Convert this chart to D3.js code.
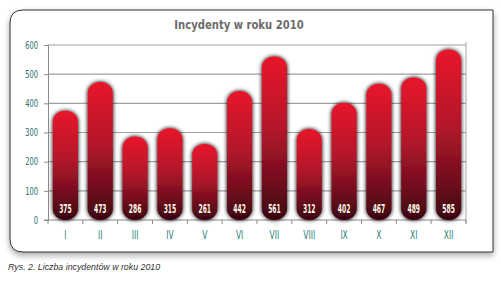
<!DOCTYPE html>
<html>
<head>
<meta charset="utf-8">
<script src="https://cdn.jsdelivr.net/npm/d3@7"></script>
<style>
  body { margin: 0; background: #fff; }
  svg { display: block; }
</style>
</head>
<body>
<div id="chart"></div>
<script>
// data
var months = ["I", "II", "III", "IV", "V", "VI", "VII", "VIII", "IX", "X", "XI", "XII"];
var incidents = [375, 473, 286, 315, 261, 442, 561, 312, 402, 467, 489, 585];
var yTicks = [0, 100, 200, 300, 400, 500, 600];
var title = "Incydenty w roku 2010";
var caption = "Rys. 2. Liczba incydentów w roku 2010";

var W = 501, H = 281;
var margin = {top: 45, right: 35, bottom: 61, left: 48},
    width = W - margin.left - margin.right,
    height = H - margin.top - margin.bottom;
var narrow = "'DejaVu Sans Condensed', 'Liberation Sans Narrow', 'Roboto Condensed', sans-serif";

var svg = d3.select("#chart").append("svg")
    .attr("width", W)
    .attr("height", H);

var defs = svg.append("defs");

// frame shadow
var fs = defs.append("filter").attr("id", "frameShadow")
    .attr("x", "-10%").attr("y", "-10%").attr("width", "120%").attr("height", "130%");
fs.append("feGaussianBlur").attr("in", "SourceAlpha").attr("stdDeviation", 3).attr("result", "b");
fs.append("feOffset").attr("in", "b").attr("dx", 0).attr("dy", 3).attr("result", "o");
fs.append("feComponentTransfer").attr("in", "o").attr("result", "s")
  .append("feFuncA").attr("type", "linear").attr("slope", 0.35);
var fm = fs.append("feMerge");
fm.append("feMergeNode").attr("in", "s");
fm.append("feMergeNode").attr("in", "SourceGraphic");

// bar shadow
var bs = defs.append("filter").attr("id", "barShadow")
    .attr("x", "-40%").attr("y", "-20%").attr("width", "180%").attr("height", "140%");
bs.append("feGaussianBlur").attr("in", "SourceAlpha").attr("stdDeviation", 2).attr("result", "b");
bs.append("feComponentTransfer").attr("in", "b").attr("result", "s")
  .append("feFuncA").attr("type", "linear").attr("slope", 1.1);
var bm = bs.append("feMerge");
bm.append("feMergeNode").attr("in", "s");
bm.append("feMergeNode").attr("in", "SourceGraphic");

// bar gradient
var grad = defs.append("linearGradient").attr("id", "barGrad")
    .attr("x1", 0).attr("y1", 0).attr("x2", 0).attr("y2", 1);
grad.append("stop").attr("offset", "0%").attr("stop-color", "#e8192b");
grad.append("stop").attr("offset", "45%").attr("stop-color", "#b3172b");
grad.append("stop").attr("offset", "80%").attr("stop-color", "#6a0c1c");
grad.append("stop").attr("offset", "100%").attr("stop-color", "#3a0510");

// frame: rounded on the left, square on the right
var fx0 = 10, fy0 = 10, fx1 = 493, fy1 = 252, r = 13;
svg.append("path")
    .attr("d", "M" + (fx0 + r) + "," + fy0 + " L" + fx1 + "," + fy0 + " L" + fx1 + "," + fy1 +
      " L" + (fx0 + r) + "," + fy1 + " Q" + fx0 + "," + fy1 + " " + fx0 + "," + (fy1 - r) +
      " L" + fx0 + "," + (fy0 + r) + " Q" + fx0 + "," + fy0 + " " + (fx0 + r) + "," + fy0 + " Z")
    .attr("fill", "#fff")
    .attr("stroke", "#333")
    .attr("stroke-width", 1)
    .attr("filter", "url(#frameShadow)");

svg.append("text")
    .attr("transform", "translate(239,29) scale(0.86,1)")
    .attr("text-anchor", "middle")
    .style("font-family", narrow)
    .style("font-weight", "bold")
    .style("font-size", "13px")
    .style("fill", "#6b6b6b")
    .text(title);

var g = svg.append("g")
    .attr("transform", "translate(" + margin.left + "," + margin.top + ")");

var x = d3.scaleBand()
    .domain(months)
    .range([0, width])
    .paddingInner(0.28)
    .paddingOuter(0.14);

var y = d3.scaleLinear()
    .domain([0, 600])
    .range([height, 0]);

// grid lines
g.selectAll(".grid")
  .data(yTicks.slice(1))
  .enter().append("line")
    .attr("x1", 0).attr("x2", width)
    .attr("y1", function(d){ return y(d); })
    .attr("y2", function(d){ return y(d); })
    .attr("stroke", "#a0a0a0")
    .attr("stroke-width", 1.2);

// right edge line
g.append("line")
    .attr("x1", width).attr("x2", width)
    .attr("y1", y(600) - 3).attr("y2", height + 3)
    .attr("stroke", "#a8a8a8");

// y axis
var yAxis = g.append("g")
    .call(d3.axisLeft(y).tickValues(yTicks).tickSize(4).tickPadding(6));
yAxis.select(".domain").attr("stroke", "#8a8a8a");
yAxis.selectAll(".tick line").attr("stroke", "#8a8a8a");
yAxis.selectAll("text")
    .attr("transform", "scale(0.75,1)")
    .attr("x", -10 / 0.75)
    .style("font-family", narrow)
    .style("font-size", "10px")
    .style("fill", "#2c6f6c");

// x axis with ticks on band edges
var edges = months.map(function(m){ return x(m) - x.step() * x.paddingInner() / 2; });
edges.push(width);
g.selectAll(".xtick")
  .data(edges)
  .enter().append("line")
    .attr("x1", function(d){ return d; }).attr("x2", function(d){ return d; })
    .attr("y1", height).attr("y2", height + 4)
    .attr("stroke", "#8a8a8a");
g.append("line")
    .attr("x1", -4).attr("x2", width)
    .attr("y1", height).attr("y2", height)
    .attr("stroke", "#8a8a8a");

g.selectAll(".xlab")
  .data(months)
  .enter().append("text")
    .attr("transform", function(d){
      return "translate(" + (x(d) + x.bandwidth() / 2) + "," + (height + 19) + ") scale(0.7,1)";
    })
    .attr("text-anchor", "middle")
    .style("font-family", narrow)
    .style("font-size", "12px")
    .style("fill", "#2c7f7c")
    .text(function(d){ return d; });

// bars
var bw = x.bandwidth(), rr = bw / 2;
g.selectAll(".bar")
  .data(incidents)
  .enter().append("rect")
    .attr("x", function(d, i){ return x(months[i]); })
    .attr("y", function(d){ return y(d); })
    .attr("width", bw)
    .attr("height", function(d){ return height - y(d); })
    .attr("rx", rr).attr("ry", 11)
    .attr("fill", "url(#barGrad)")
    .attr("filter", "url(#barShadow)");

g.selectAll(".val")
  .data(incidents)
  .enter().append("text")
    .attr("transform", function(d, i){
      return "translate(" + (x(months[i]) + bw / 2) + "," + (height - 7.5) + ") scale(0.58,1)";
    })
    .attr("text-anchor", "middle")
    .style("font-family", narrow)
    .style("font-weight", "bold")
    .style("font-size", "11.5px")
    .style("fill", "#fff8e8")
    .text(function(d){ return d; });

svg.append("text")
    .attr("x", 8).attr("y", 270)
    .style("font-family", "'Liberation Sans', Arial, sans-serif")
    .style("font-style", "italic")
    .style("font-size", "8.8px")
    .style("fill", "#333")
    .text(caption);
</script>
</body>
</html>
